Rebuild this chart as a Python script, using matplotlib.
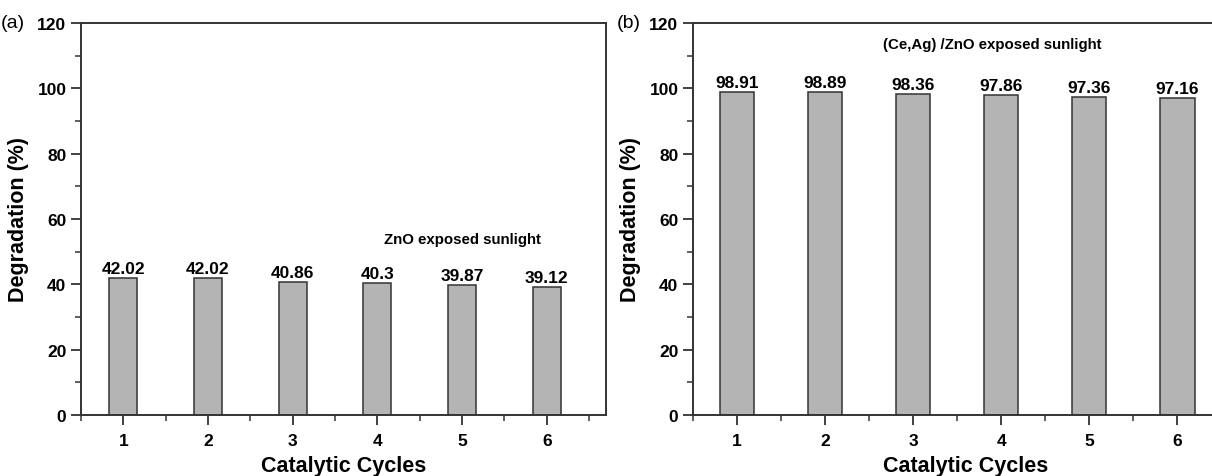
import matplotlib
matplotlib.use('Agg')
import matplotlib.pyplot as plt
from matplotlib.ticker import MultipleLocator

plt.rcParams['font.family'] = ['Liberation Sans', 'DejaVu Sans']

# Data
cycles = [1, 2, 3, 4, 5, 6]
zno_deg = [42.02, 42.02, 40.86, 40.3, 39.87, 39.12]
ceag_deg = [98.91, 98.89, 98.36, 97.86, 97.36, 97.16]
zno_labels = ['42.02', '42.02', '40.86', '40.3', '39.87', '39.12']
ceag_labels = ['98.91', '98.89', '98.36', '97.86', '97.36', '97.16']

fig = plt.figure(figsize=(12.12, 4.77), dpi=100)
ax1 = fig.add_axes([81/1212, 61/477, 525/1212, 392/477])
ax2 = fig.add_axes([693/1212, 61/477, 546/1212, 392/477])

bar_color = '#b4b4b4'
edge_color = '#333333'


def style_axis(ax):
    ax.set_xlim(0.5, 6.7)
    ax.set_ylim(0, 120)
    ax.yaxis.set_major_locator(MultipleLocator(20))
    ax.yaxis.set_minor_locator(MultipleLocator(10))
    ax.set_xticks(cycles)
    ax.xaxis.set_minor_locator(MultipleLocator(0.5))
    ax.tick_params(which='major', direction='out', length=7, width=1.3,
                   labelsize=12.5, color='#333333')
    ax.tick_params(axis='x', which='major', pad=6)
    ax.tick_params(which='minor', direction='out', length=4, width=1.1,
                   color='#333333')
    for lbl in ax.get_xticklabels() + ax.get_yticklabels():
        lbl.set_fontweight('bold')
    for sp in ax.spines.values():
        sp.set_linewidth(1.4)
        sp.set_color('#333333')
    ax.set_xlabel('Catalytic Cycles', fontsize=15.5, fontweight='bold', labelpad=5)
    ax.set_ylabel('Degradation (%)', fontsize=15.5, fontweight='bold', labelpad=6)


# Panel (a)
ax1.bar(cycles, zno_deg, width=0.33, color=bar_color, edgecolor=edge_color, linewidth=1.1)
for x, y, s in zip(cycles, zno_deg, zno_labels):
    ax1.text(x, y + 0.6, s, ha='center', va='bottom', fontsize=12.5, fontweight='bold')
ax1.text(5.0, 54, 'ZnO exposed sunlight', ha='center', va='center',
         fontsize=10.8, fontweight='bold')
style_axis(ax1)
fig.text(1/1212, 453/477, '(a)', fontsize=14, va='center', ha='left')

# Panel (b)
ax2.bar(cycles, ceag_deg, width=0.39, color=bar_color, edgecolor=edge_color, linewidth=1.1)
for x, y, s in zip(cycles, ceag_deg, ceag_labels):
    ax2.text(x, y + 0.6, s, ha='center', va='bottom', fontsize=12.5, fontweight='bold')
ax2.text(3.9, 113.5, '(Ce,Ag) /ZnO exposed sunlight', ha='center', va='center',
         fontsize=10.8, fontweight='bold')
style_axis(ax2)
fig.text(617/1212, 453/477, '(b)', fontsize=14, va='center', ha='left')

fig.savefig('out.png', dpi=100)
